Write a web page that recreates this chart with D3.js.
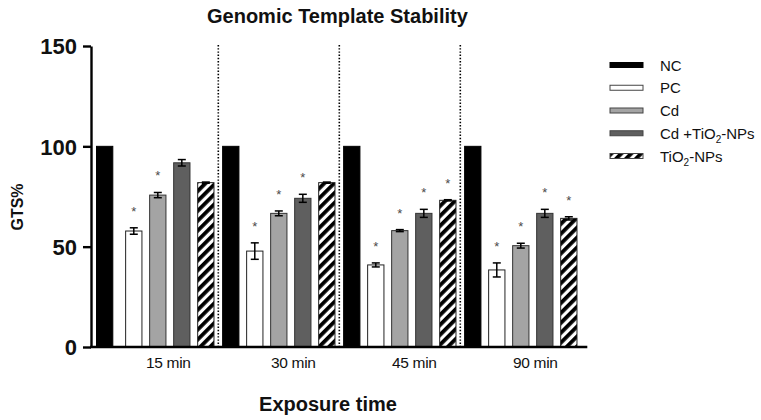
<!DOCTYPE html>
<html>
<head>
<meta charset="utf-8">
<script src="https://cdn.jsdelivr.net/npm/d3@7/dist/d3.min.js"></script>
<style>
  html, body { margin: 0; padding: 0; background: #fff; }
  svg { display: block; font-family: "Liberation Sans", Arial, Helvetica, sans-serif; }
</style>
</head>
<body>
<svg id="chart" width="761" height="420"></svg>
<script>
// ---- data ----
const groups = ["15 min", "30 min", "45 min", "90 min"];
const series = ["NC", "PC", "Cd", "Cd +TiO2-NPs", "TiO2-NPs"];
const valNC   = [100, 100, 100, 100];
const valPC   = [57.8, 47.8, 40.9, 38.4];
const valCd   = [75.7, 66.6, 58.0, 50.5];
const valCdTi = [91.8, 74.1, 66.6, 66.6];
const valTi   = [81.9, 81.9, 73.1, 64.1];
const errNC   = [0, 0, 0, 0];
const errPC   = [1.6, 4.1, 1.0, 3.5];
const errCd   = [1.3, 1.2, 0.5, 1.2];
const errCdTi = [1.6, 2.0, 2.0, 2.0];
const errTi   = [0.3, 0.3, 0.3, 0.8];
const sigNC   = [false, false, false, false];
const sigPC   = [true, true, true, true];
const sigCd   = [true, true, true, true];
const sigCdTi = [false, true, true, true];
const sigTi   = [false, false, true, true];
const yTicks  = [0, 50, 100, 150];

const values = [valNC, valPC, valCd, valCdTi, valTi];
const errors = [errNC, errPC, errCd, errCdTi, errTi];
const sigs   = [sigNC, sigPC, sigCd, sigCdTi, sigTi];

const rows = [];
groups.forEach((g, gi) => {
  series.forEach((s, si) => {
    rows.push({ g, gi, s, si, v: values[si][gi], e: errors[si][gi], sig: sigs[si][gi] });
  });
});

// ---- layout ----
const svg = d3.select("#chart");
const axisX = 91, axisTop = 46, axisBottom = 347;

const y = d3.scaleLinear().domain([0, 150]).range([axisBottom, axisTop]);
const gx = d3.scaleBand().domain(groups).range([97.3, 581.3]).padding(0);
const sx = d3.scaleBand().domain(series).range([0, gx.bandwidth()])
  .paddingInner(0.321).paddingOuter(0.18);

// first group's control bar sits right against the y axis
const barX = d => (d.gi === 0 && d.si === 0) ? axisX + 5.5 : gx(d.g) + sx(d.s);

const defs = svg.append("defs");
const pat = defs.append("pattern")
  .attr("id", "hatch")
  .attr("patternUnits", "userSpaceOnUse")
  .attr("width", 7).attr("height", 7)
  .attr("patternTransform", "rotate(45)");
pat.append("rect").attr("width", 7).attr("height", 7).attr("fill", "#fff");
pat.append("rect").attr("width", 3.8).attr("height", 7).attr("fill", "#000");

const fills = ["#000000", "#ffffff", "#a4a4a4", "#5f5f5f", "url(#hatch)"];
const strokes = ["#000000", "#222222", "#333333", "#333333", "#222222"];

// dotted separators
svg.append("g").selectAll("line")
  .data(groups.slice(1))
  .join("line")
  .attr("x1", d => gx(d)).attr("x2", d => gx(d))
  .attr("y1", y(150) - 1).attr("y2", y(0))
  .attr("stroke", "#000").attr("stroke-width", 1.6)
  .attr("stroke-dasharray", "1.4,1.8");

// bars
svg.append("g").selectAll("rect")
  .data(rows)
  .join("rect")
  .attr("x", barX)
  .attr("y", d => y(d.v))
  .attr("width", sx.bandwidth())
  .attr("height", d => y(0) - y(d.v))
  .attr("fill", d => fills[d.si])
  .attr("stroke", d => strokes[d.si])
  .attr("stroke-width", 1);

// error bars
const eb = svg.append("g").attr("stroke", "#000").attr("stroke-width", 1.5);
rows.filter(d => d.e > 0).forEach(d => {
  const cx = barX(d) + sx.bandwidth() / 2;
  eb.append("line").attr("x1", cx).attr("x2", cx).attr("y1", y(d.v + d.e)).attr("y2", y(d.v - d.e));
  eb.append("line").attr("x1", cx - 4).attr("x2", cx + 4).attr("y1", y(d.v + d.e)).attr("y2", y(d.v + d.e));
  eb.append("line").attr("x1", cx - 4).attr("x2", cx + 4).attr("y1", y(d.v - d.e)).attr("y2", y(d.v - d.e));
});

// significance stars
svg.append("g").selectAll("text")
  .data(rows.filter(d => d.sig))
  .join("text")
  .attr("x", d => barX(d) + sx.bandwidth() / 2)
  .attr("y", d => y(d.v + d.e) - 12)
  .attr("text-anchor", "middle")
  .attr("font-size", 13)
  .attr("fill", "#4a4a4a")
  .text("*");

// y axis
const yAxis = svg.append("g")
  .attr("transform", `translate(${axisX},0)`)
  .call(d3.axisLeft(y).tickValues(yTicks).tickSize(8).tickSizeOuter(0).tickPadding(6));
yAxis.select(".domain").attr("stroke-width", 2.4);
yAxis.selectAll(".tick line").attr("stroke-width", 2.4);
yAxis.selectAll(".tick text")
  .attr("font-size", 22).attr("font-weight", "bold")
  .attr("font-family", "Liberation Sans, Arial, sans-serif")
  .attr("fill", "#111")
  .attr("dy", "0.36em");

// x axis line
svg.append("line")
  .attr("x1", axisX - 1).attr("x2", gx.range()[1] + 6)
  .attr("y1", y(0)).attr("y2", y(0))
  .attr("stroke", "#000").attr("stroke-width", 2.4);

// x labels
svg.append("g").selectAll("text")
  .data(groups)
  .join("text")
  .attr("x", (d, i) => gx(d) + gx.bandwidth() / 2 + (i === 0 ? 10.5 : 14.5))
  .attr("y", 368)
  .attr("text-anchor", "middle")
  .attr("font-size", 15.5)
  .attr("letter-spacing", "-0.3")
  .attr("fill", "#111")
  .text(d => d);

// titles
svg.append("text")
  .attr("x", 207).attr("y", 23)
  .attr("text-anchor", "start")
  .attr("font-size", 20).attr("font-weight", "bold")
  .attr("fill", "#111")
  .text("Genomic Template Stability");

svg.append("text")
  .attr("x", 328).attr("y", 411)
  .attr("text-anchor", "middle")
  .attr("font-size", 20).attr("font-weight", "bold")
  .attr("fill", "#111")
  .text("Exposure time");

svg.append("text")
  .attr("transform", "translate(23,207) rotate(-90)")
  .attr("text-anchor", "middle")
  .attr("font-size", 16).attr("font-weight", "bold")
  .attr("fill", "#111")
  .text("GTS%");

// legend
const ly = d3.scalePoint().domain(series).range([65, 156]);
const leg = svg.append("g");
series.forEach((s, si) => {
  const cy = ly(s);
  leg.append("rect")
    .attr("x", 610).attr("y", cy - 2.5)
    .attr("width", 33).attr("height", 5)
    .attr("fill", fills[si])
    .attr("stroke", si === 0 ? "#000" : "#444")
    .attr("stroke-width", 1);
  const t = leg.append("text")
    .attr("x", 660).attr("y", cy + 5.5)
    .attr("font-size", 15).attr("fill", "#111");
  const m = s.match(/^(.*TiO)2(.*)$/);
  if (m) {
    t.append("tspan").text(m[1]);
    t.append("tspan").attr("font-size", 10).attr("dy", 4).text("2");
    t.append("tspan").attr("dy", -4).text(m[2]);
  } else {
    t.text(s);
  }
});
</script>
</body>
</html>
